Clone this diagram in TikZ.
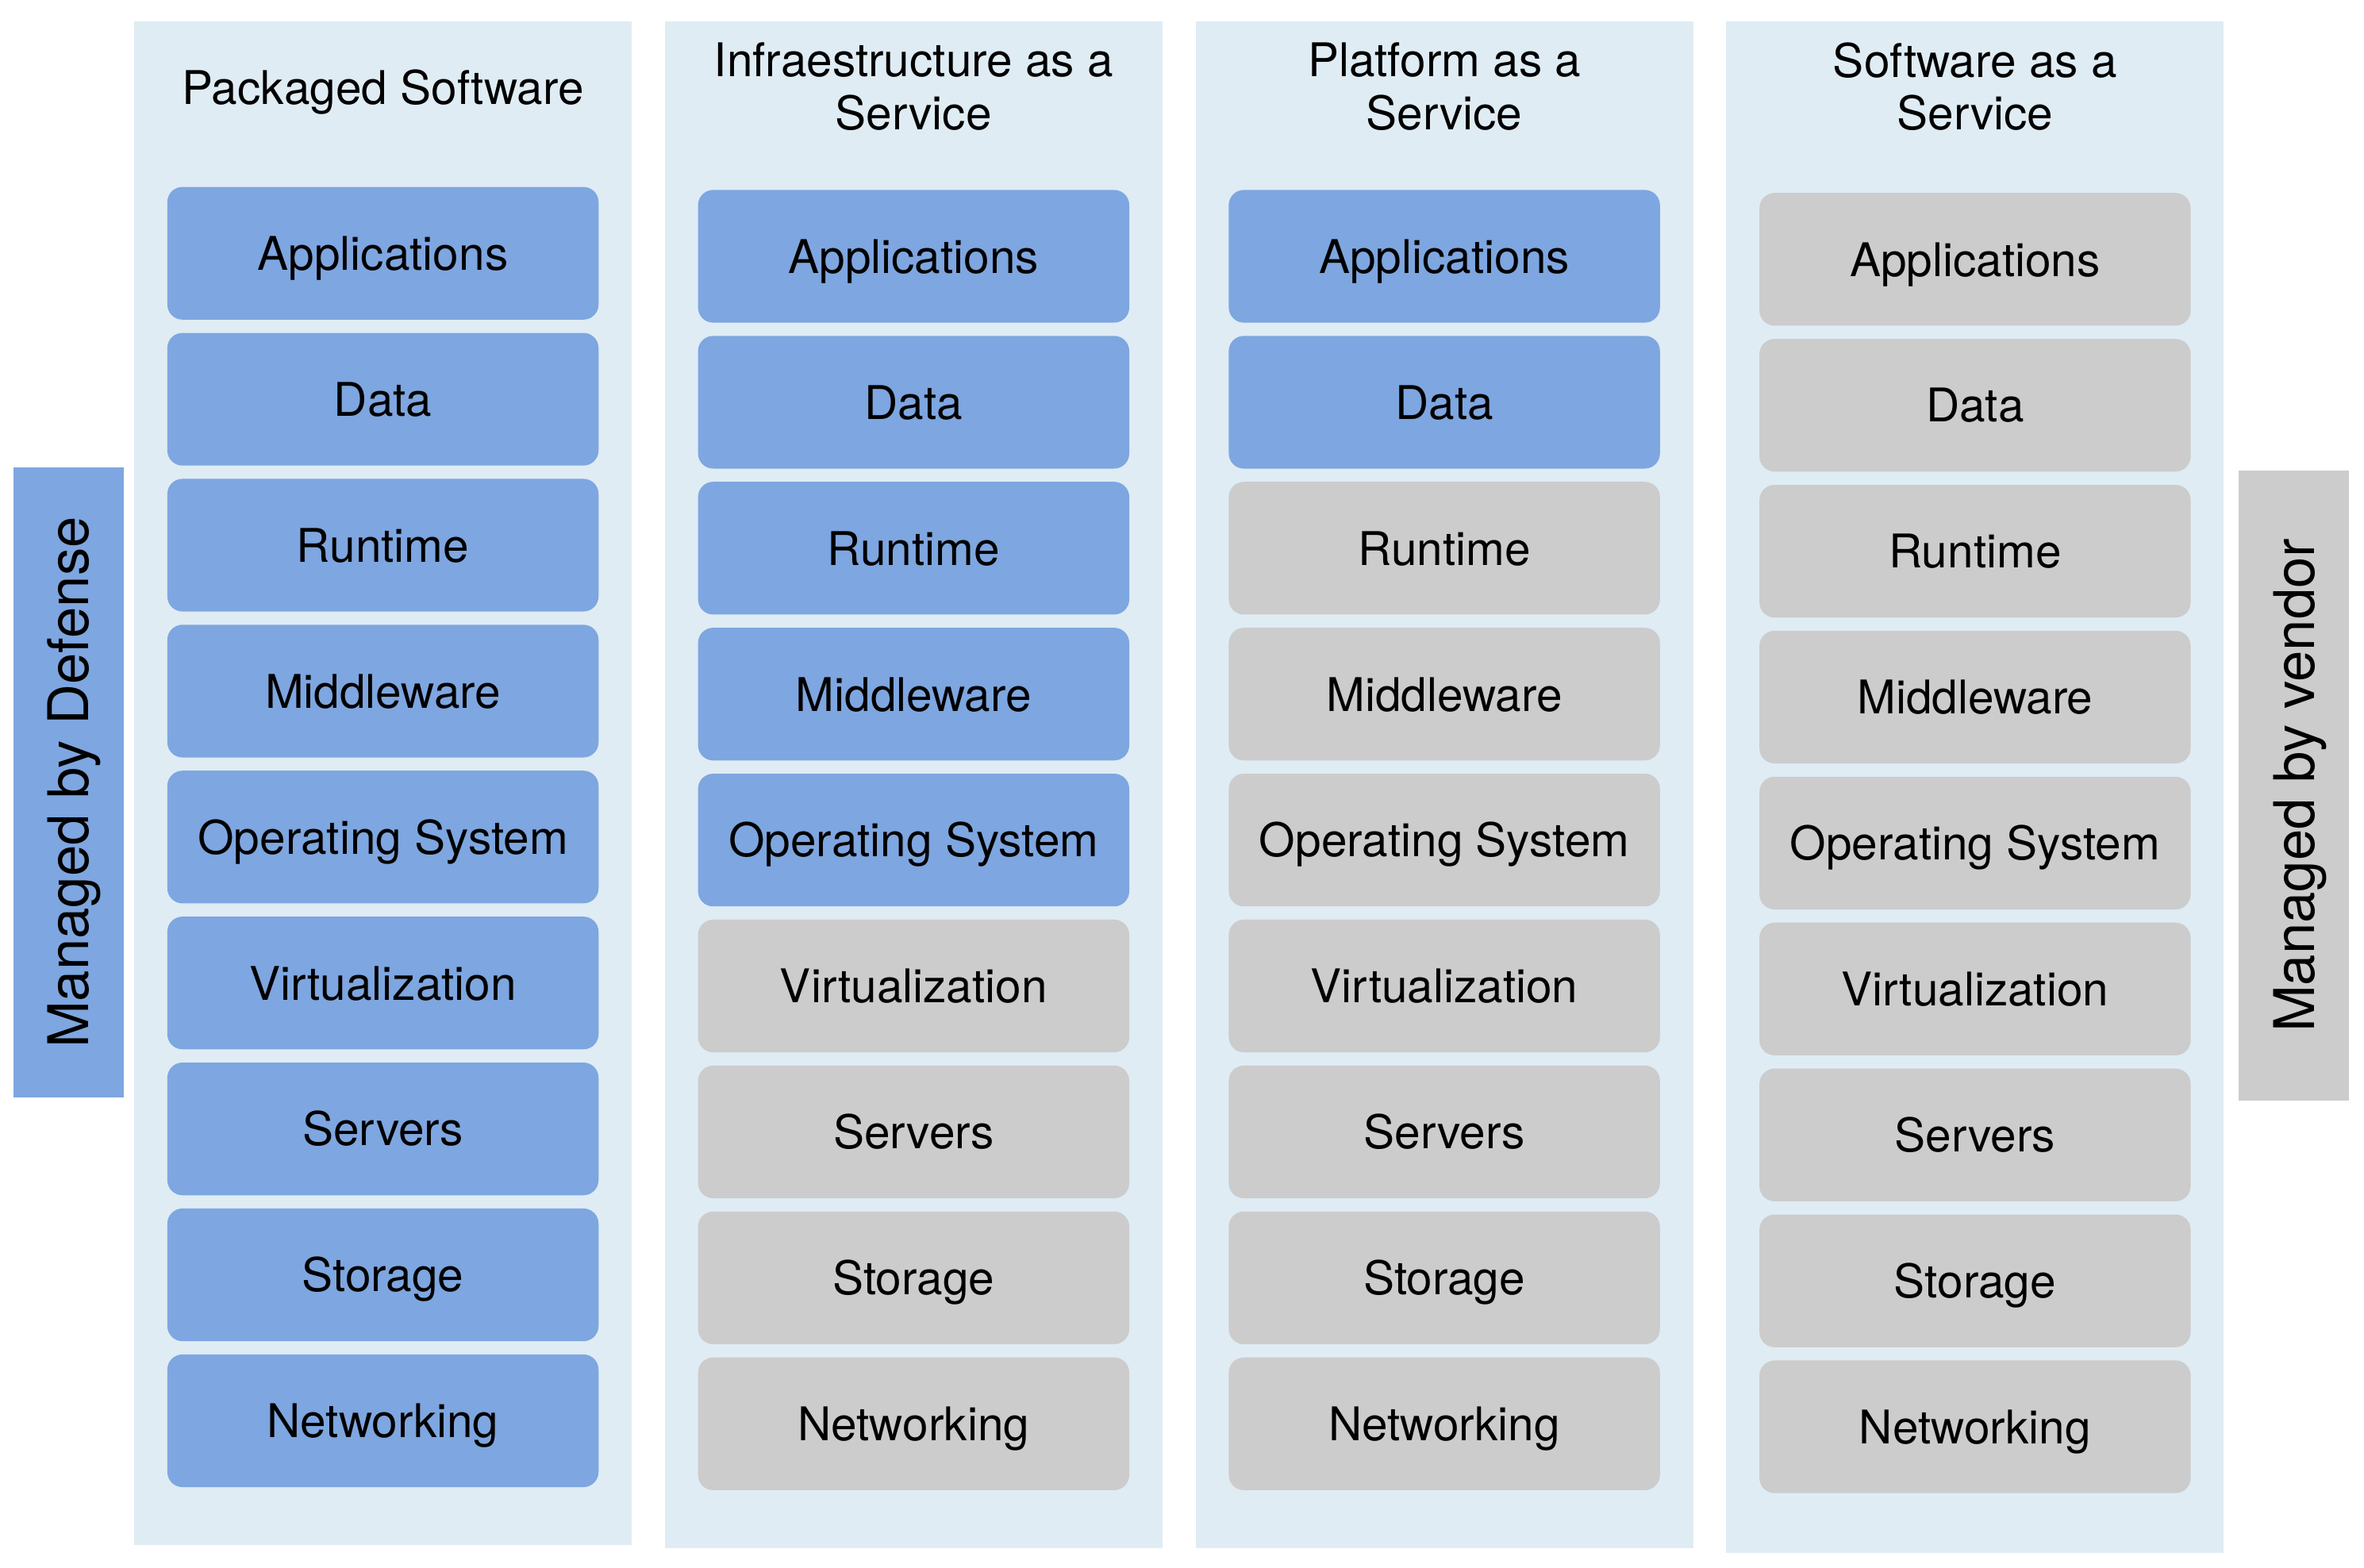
\documentclass[tikz,border=0pt]{standalone}
\usepackage{fontspec}
\setmainfont{TeX Gyre Heros}
\definecolor{mblue}{HTML}{7EA6E0}
\definecolor{mgray}{HTML}{CCCCCC}
\definecolor{mpanel}{HTML}{DFECF4}
\begin{document}
\begin{tikzpicture}[x=0.5pt,y=-0.5pt,
  layer/.style={rounded corners=5pt, minimum width=143pt, minimum height=44pt, inner sep=0pt, text=black, text height=11.2pt, text depth=0pt, font=\fontsize{15.4}{18}\selectfont},
  mine/.style={layer, fill=mblue},
  theirs/.style={layer, fill=mgray},
  panel/.style={fill=mpanel, draw=none},
  title/.style={align=center, inner sep=0pt, font=\fontsize{15.4}{17.5}\selectfont},
  side/.style={rotate=90, minimum width=209pt, minimum height=36.5pt, inner sep=0pt, text height=13.4pt, text depth=0pt, font=\fontsize{18.6}{20}\selectfont}]
\useasboundingbox (0,0) rectangle (1568,1040);
% panels
\fill[mpanel] (89,14) rectangle (419,1025);
\fill[mpanel] (441,14) rectangle (771,1027);
\fill[mpanel] (793,14) rectangle (1123,1027);
\fill[mpanel] (1145,14) rectangle (1475,1030);
% titles
\node[title, text height=11.2pt, text depth=0pt] (t1) at (254,58) {Packaged Software};
\node[title] (t2) at (606,57.5) {Infraestructure as a\\Service};
\node[title] (t3) at (958,57.5) {Platform as a\\Service};
\node[title] (t4) at (1310,57.5) {Software as a\\Service};
% layers
\foreach \cx/\cy/\nb [count=\c] in {254/168/9, 606/170/5, 958/170/2, 1310/172/0}{
  \foreach \name [count=\i] in {Applications,Data,Runtime,Middleware,Operating System,Virtualization,Servers,Storage,Networking}{
    \ifnum\i>\nb\def\st{theirs}\else\def\st{mine}\fi
    \node[\st] (c\c b\i) at (\cx,{\cy+(\i-1)*96.8}) {\name};
  }
}
% side labels
\node[side, fill=mblue] (left) at (45.5,519) {Managed by Defense};
\node[side, fill=mgray] (right) at (1521.5,521) {Managed by vendor};
\end{tikzpicture}
\end{document}
